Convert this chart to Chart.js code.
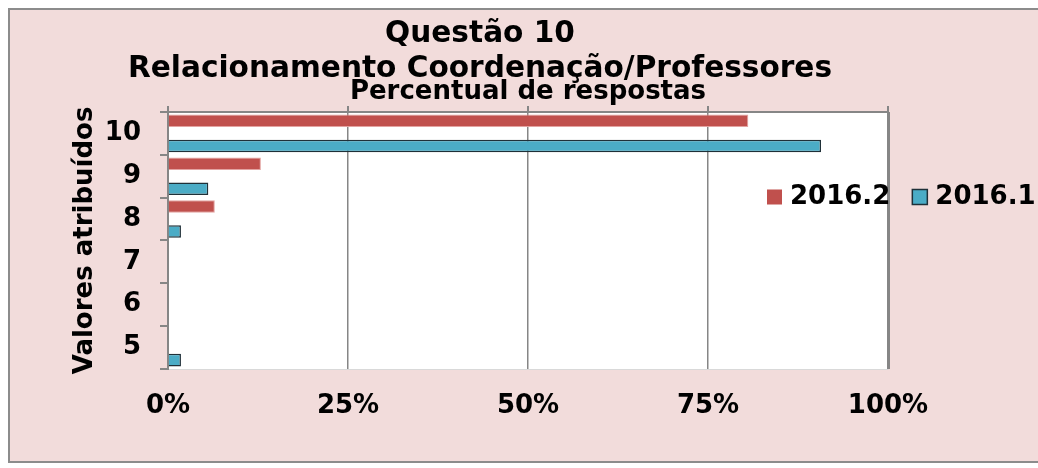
<!DOCTYPE html>
<html>
<head>
<meta charset="utf-8">
<script src="https://cdn.jsdelivr.net/npm/chart.js@4"></script>
<style>
	body { margin: 0; background: #fff; }
	canvas { display: block; }
</style>
</head>
<body>
<canvas id="chart" width="1038" height="468"></canvas>
<script>
const categories = ['10', '9', '8', '7', '6', '5'];
const seriesNames = ['2016.2', '2016.1'];
const values2016_2 = [80.6, 12.9, 6.5, 0, 0, 0];
const values2016_1 = [90.7, 5.6, 1.8, 0, 0, 1.8];
const xTicks = [0, 25, 50, 75, 100];

const GRAY = '#868686';
const FONT = 'DejaVu Sans';

Chart.defaults.font.family = FONT;
Chart.defaults.color = '#000';

// pink frame + white plot area
const background = {
	id: 'background',
	beforeDraw(chart) {
		const c = chart.ctx, a = chart.chartArea;
		c.save();
		c.fillStyle = '#fff';
		c.fillRect(0, 0, chart.width, chart.height);
		c.fillStyle = '#f2dcdb';
		c.fillRect(9, 9, chart.width, 453);
		c.strokeStyle = '#8c8c8c';
		c.lineWidth = 2;
		c.strokeRect(9, 9, chart.width + 10, 453);
		c.fillStyle = '#fff';
		c.fillRect(a.left, a.top, a.right - a.left, a.bottom - a.top);
		c.restore();
	}
};

// legend drawn in one row beside the plot
const rowLegend = {
	id: 'rowLegend',
	afterDraw(chart) {
		const c = chart.ctx, a = chart.chartArea;
		const y = 197;
		let x = a.right - 121;
		c.save();
		c.font = 'bold 26px ' + FONT;
		c.textBaseline = 'middle';
		c.textAlign = 'left';
		chart.data.datasets.forEach(ds => {
			c.fillStyle = ds.backgroundColor;
			c.fillRect(x, y - 7.5, 15, 15);
			if (ds.legendBorder) {
				c.strokeStyle = ds.borderColor;
				c.lineWidth = 1.5;
				c.strokeRect(x, y - 7.5, 15, 15);
			}
			c.fillStyle = '#000';
			c.fillText(ds.label, x + 23, y);
			x += 23 + c.measureText(ds.label).width + 22;
		});
		c.restore();
	}
};

new Chart(document.getElementById('chart'), {
	type: 'bar',
	data: {
		labels: categories,
		datasets: [
			{
				label: seriesNames[0],
				data: values2016_2,
				backgroundColor: '#c0504d',
				borderColor: '#e3a3a1',
				borderWidth: 1
			},
			{
				label: seriesNames[1],
				data: values2016_1,
				backgroundColor: '#4bacc6',
				borderColor: '#1f3038',
				borderWidth: 1.5,
				legendBorder: true
			}
		]
	},
	options: {
		indexAxis: 'y',
		responsive: false,
		animation: false,
		categoryPercentage: 1.17,
		barPercentage: 0.5,
		layout: { padding: { left: 20, right: 98, top: 0, bottom: 46 } },
		plugins: {
			legend: { display: false },
			tooltip: { enabled: false },
			title: {
				display: true,
				text: ['Questão 10', 'Relacionamento Coordenação/Professores'],
				font: { size: 29.6, weight: 'bold', lineHeight: 1.18 },
				color: '#000',
				padding: { top: 17, bottom: 0 }
			}
		},
		scales: {
			x: {
				position: 'bottom',
				min: 0,
				max: 100,
				afterBuildTicks: s => { s.ticks = xTicks.map(v => ({ value: v })); },
				afterFit: s => { s.height = 53; },
				ticks: {
					callback: v => v + '%',
					font: { size: 26, weight: 'bold' },
					color: '#000',
					padding: 22,
					maxRotation: 0
				},
				grid: {
					drawTicks: false,
					color: GRAY,
					lineWidth: ctx => ctx.tick && ctx.tick.value === 100 ? 3 : 1.5
				},
				border: { color: '#d9d9d9', width: 1 }
			},
			x2: {
				position: 'top',
				axis: 'x',
				min: 0,
				max: 100,
				afterBuildTicks: s => { s.ticks = xTicks.map(v => ({ value: v })); },
				ticks: { display: false },
				grid: { drawOnChartArea: false, tickLength: 6, color: GRAY, lineWidth: 2 },
				border: { color: GRAY, width: 2 },
				title: {
					display: true,
					text: 'Percentual de respostas',
					font: { size: 26, weight: 'bold', lineHeight: 0.4 },
					color: '#000',
					padding: { top: 0, bottom: 8.7 }
				}
			},
			y: {
				type: 'category',
				labels: categories,
				afterFit: s => { s.width = 148; },
				ticks: {
					font: { size: 26, weight: 'bold' },
					color: '#000',
					padding: 19
				},
				grid: { offset: true, drawOnChartArea: false, tickLength: 8, color: GRAY, lineWidth: 2 },
				border: { color: GRAY, width: 2 },
				title: {
					display: true,
					text: 'Valores atribuídos',
					font: { size: 26, weight: 'bold', lineHeight: 1.2 },
					color: '#000',
					padding: { top: 49.4, bottom: 0 }
				}
			},
			// empty box that keeps room for the legend on the right
			y2: {
				type: 'category',
				labels: categories,
				position: 'right',
				afterFit: s => { s.width = 52; },
				ticks: { display: false },
				grid: { display: false },
				border: { display: false }
			}
		}
	},
	plugins: [background, rowLegend]
});
</script>
</body>
</html>
